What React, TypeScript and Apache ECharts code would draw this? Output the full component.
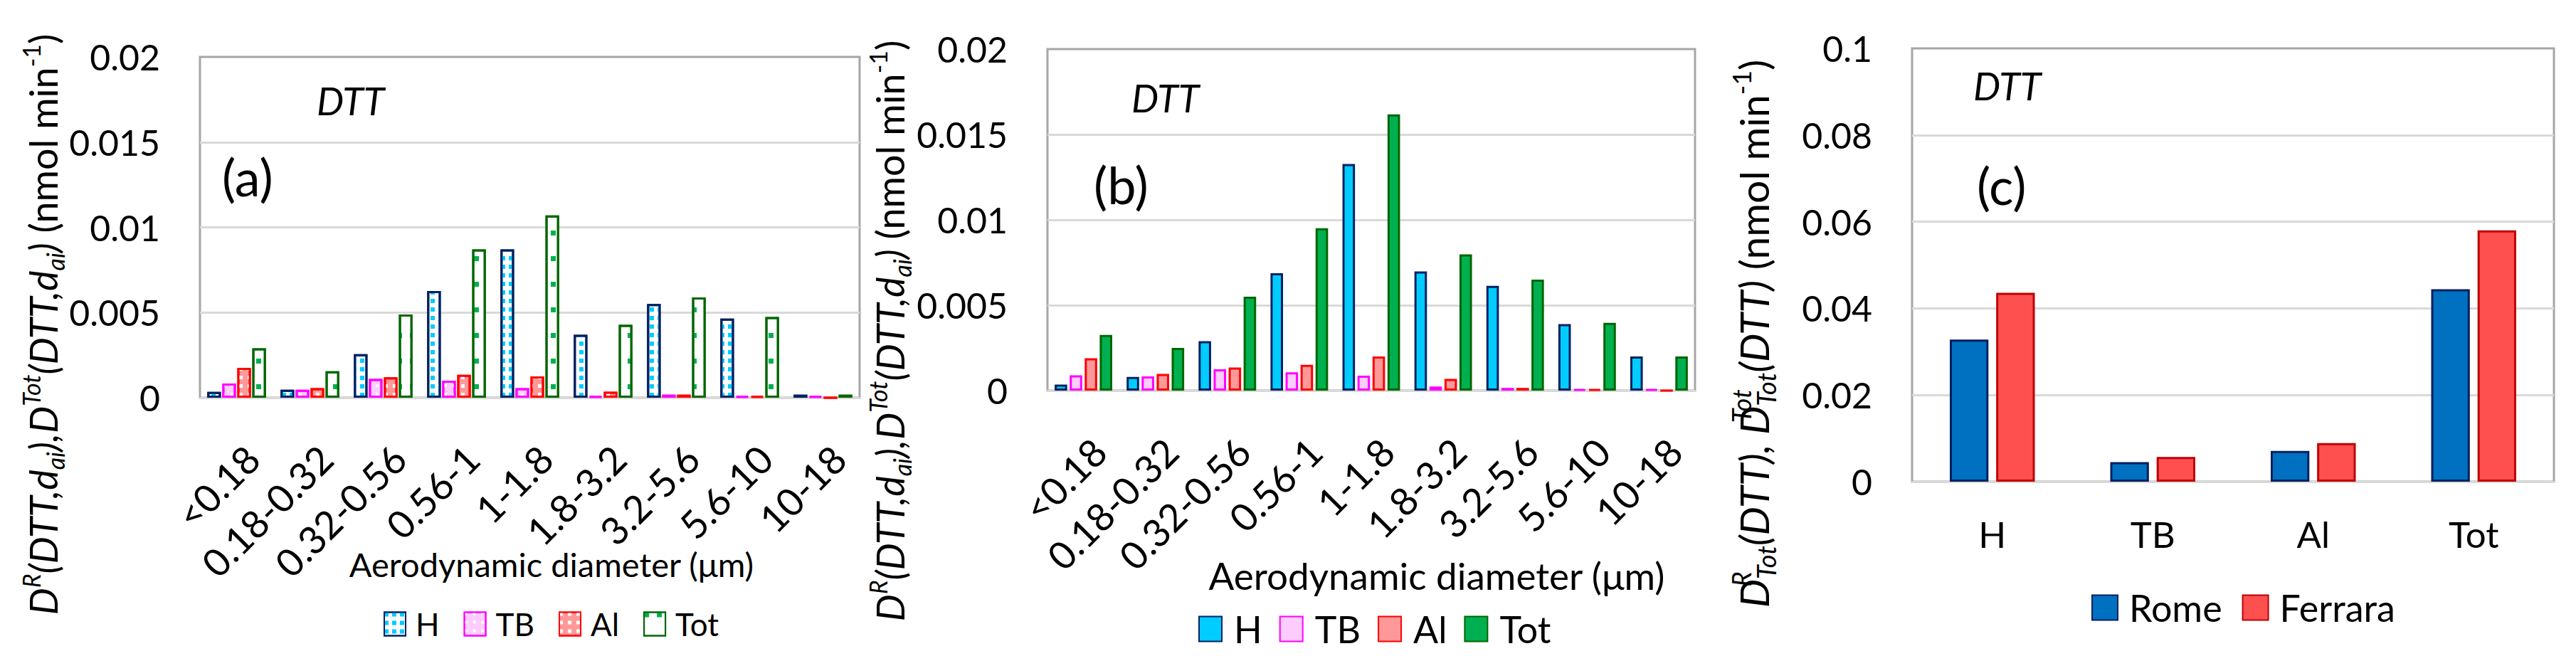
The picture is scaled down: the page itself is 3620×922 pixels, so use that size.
import React, { useEffect, useRef } from 'react';
import * as echarts from 'echarts';

// ---------- data ----------
const sizeBins = ['<0.18', '0.18-0.32', '0.32-0.56', '0.56-1', '1-1.8', '1.8-3.2', '3.2-5.6', '5.6-10', '10-18'];
const seriesNames = ['H', 'TB', 'Al', 'Tot'];

// panel (a)
const aH = [0.00034, 0.00047, 0.00256, 0.00626, 0.00871, 0.0037, 0.0055, 0.00465, 0.00018];
const aTB = [0.00084, 0.00047, 0.00111, 0.001, 0.00056, 0.0001, 0.00018, 0.00011, 0.00011];
const aAl = [0.00175, 0.00056, 0.0012, 0.00135, 0.00125, 0.00036, 0.00018, 0.00011, 0];
const aTot = [0.0029, 0.00156, 0.00489, 0.00871, 0.0107, 0.00428, 0.00589, 0.00474, 0.00018];

// panel (b)
const bH = [0.00035, 0.0008, 0.0029, 0.00688, 0.01327, 0.00698, 0.00614, 0.0039, 0.002];
const bTB = [0.0009, 0.00083, 0.00125, 0.00107, 0.00088, 0.00024, 0.00016, 0.00008, 0.00008];
const bAl = [0.0019, 0.00098, 0.00135, 0.00151, 0.002, 0.00069, 0.00016, 0.00008, 0];
const bTot = [0.00326, 0.0025, 0.0055, 0.00951, 0.01618, 0.00798, 0.0065, 0.00397, 0.002];

// panel (c)
const cCategories = ['H', 'TB', 'Al', 'Tot'];
const cSites = ['Rome', 'Ferrara'];
const cRome = [0.0328, 0.0045, 0.0071, 0.0444];
const cFerrara = [0.0436, 0.0057, 0.0089, 0.058];

// axis scales
const abAxisMax = 0.02;
const abAxisStep = 0.005;
const cAxisMax = 0.1;
const cAxisStep = 0.02;

// ---------- styles ----------
const FONT = 'Lato, "Open Sans", sans-serif';
const fills = ['#00CCFF', '#FFCCFF', '#FF9999', '#00B050'];
const borders = ['#002060', '#FF00FF', '#FF0000', '#006600'];
const cFills = ['#0070C0', '#FF5050'];
const cBorders = ['#002060', '#C00000'];

const aDecals = [
  { fill: '#FFFFFF', decal: { symbol: 'rect', symbolSize: 1, color: '#00CCFF', dashArrayX: [6, 5], dashArrayY: [6, 6] } },
  { fill: '#FFCCFF', decal: { symbol: 'rect', symbolSize: 1, color: '#FFFFFF', dashArrayX: [4, 8], dashArrayY: [4, 8] } },
  { fill: '#FF9999', decal: { symbol: 'rect', symbolSize: 1, color: '#FFFFFF', dashArrayX: [5, 7], dashArrayY: [5, 7] } },
  { fill: '#FFFFFF', decal: { symbol: 'rect', symbolSize: 1, color: '#00B050', dashArrayX: [7, 11], dashArrayY: [7, 29] } },
];

const fmt = (v: number) => String(parseFloat(v.toFixed(4)));

function titleRich(main: number, small: number) {
  const lh = Math.round(main * 1.25);
  const slh = Math.round(small * 1.05);
  return {
    i: { fontFamily: FONT, fontStyle: 'italic', fontSize: main, lineHeight: lh, verticalAlign: 'middle', fill: '#000' },
    n: { fontFamily: FONT, fontSize: main, lineHeight: lh, verticalAlign: 'middle', fill: '#000' },
    isup: { fontFamily: FONT, fontStyle: 'italic', fontSize: small, lineHeight: slh, verticalAlign: 'top', fill: '#000' },
    isupz: { fontFamily: FONT, fontStyle: 'italic', fontSize: small, lineHeight: slh, verticalAlign: 'top', width: 0, fill: '#000' },
    isub: { fontFamily: FONT, fontStyle: 'italic', fontSize: small, lineHeight: slh, verticalAlign: 'bottom', fill: '#000' },
    sup: { fontFamily: FONT, fontSize: small, lineHeight: slh, verticalAlign: 'top', fill: '#000' },
  };
}

const yTitleAB =
  '{i|D}{isup|R}{i|(DTT,d}{isub|ai}{i|),D}{isup|Tot}{i|(DTT,d}{isub|ai}{i|)}{n| (nmol min}{sup|-1}{n|)}';
const yTitleC =
  '{i|D}{isupz|R}{isub|Tot}{i|(DTT), D}{isupz|Tot}{isub|Tot}{i|(DTT)}{n| (nmol min}{sup|-1}{n|)}';

function makeText(x: number, y: number, text: string, size: number, italic = false, align = 'left') {
  return {
    type: 'text',
    x,
    y,
    silent: true,
    style: {
      text,
      fontFamily: FONT,
      fontSize: size,
      fontStyle: italic ? 'italic' : 'normal',
      fill: '#000',
      align,
      verticalAlign: 'middle',
    },
  };
}

function rotatedTitle(x: number, y: number, text: string, main: number, small: number) {
  return {
    type: 'text',
    x,
    y,
    rotation: Math.PI / 2,
    silent: true,
    style: { text, rich: titleRich(main, small), align: 'center', verticalAlign: 'middle', fill: '#000' },
  };
}

function valueAxis(gridIndex: number, max: number, step: number, fontSize: number) {
  return {
    type: 'value',
    gridIndex,
    min: 0,
    max,
    interval: step,
    axisLine: { show: false },
    axisTick: { show: false },
    splitLine: { show: true, showMaxLine: false, lineStyle: { color: '#D9D9D9', width: 3 } },
    axisLabel: { margin: 56, fontSize, fontFamily: FONT, color: '#000', formatter: fmt },
  };
}

// bin axis drawn on the plot (line only)
function binAxisLine(gridIndex: number) {
  return {
    type: 'category',
    gridIndex,
    data: sizeBins,
    axisTick: { show: false },
    axisLine: { show: true, lineStyle: { color: '#D9D9D9', width: 3 } },
    axisLabel: { show: false },
  };
}

// bin axis carrying the rotated labels (in a slightly shifted invisible grid)
function binAxisLabels(gridIndex: number, fontSize: number, margin: number) {
  return {
    type: 'category',
    gridIndex,
    data: sizeBins,
    axisTick: { show: false },
    axisLine: { show: false },
    splitLine: { show: false },
    axisLabel: { interval: 0, rotate: 45, fontSize, fontFamily: FONT, color: '#000', margin },
  };
}

function hiddenValueAxis(gridIndex: number) {
  return { type: 'value', gridIndex, show: false, min: 0, max: 1 };
}

function buildOption() {
  const aData = [aH, aTB, aAl, aTot];
  const bData = [bH, bTB, bAl, bTot];
  const series: any[] = [];
  seriesNames.forEach((name, k) => {
    series.push({
      type: 'bar',
      name,
      xAxisIndex: 0,
      yAxisIndex: 0,
      data: aData[k],
      barGap: '10%',
      barCategoryGap: '20%',
      itemStyle: { color: aDecals[k].fill, borderColor: borders[k], borderWidth: 3, decal: aDecals[k].decal },
    });
  });
  seriesNames.forEach((name, k) => {
    series.push({
      type: 'bar',
      name: name + ' ',
      xAxisIndex: 1,
      yAxisIndex: 1,
      data: bData[k],
      barGap: '20%',
      barCategoryGap: '20%',
      itemStyle: { color: fills[k], borderColor: borders[k], borderWidth: 3 },
    });
  });
  const cData = [cRome, cFerrara];
  cSites.forEach((name, k) => {
    series.push({
      type: 'bar',
      name,
      xAxisIndex: 2,
      yAxisIndex: 2,
      data: cData[k],
      barGap: '20%',
      barCategoryGap: '47%',
      itemStyle: { color: cFills[k], borderColor: cBorders[k], borderWidth: 3 },
    });
  });

  const gridBase = { show: true, borderColor: '#A6A6A6', borderWidth: 3, backgroundColor: 'transparent', containLabel: false, outerBoundsMode: 'none' };
  const hiddenGrid = { show: false, containLabel: false, outerBoundsMode: 'none' };
  const labelShift = 22;

  return {
    animation: false,
    backgroundColor: '#FFFFFF',
    grid: [
      { ...gridBase, left: 281, top: 80, width: 927, height: 479 },
      { ...gridBase, left: 1472, top: 69, width: 910, height: 480 },
      { ...gridBase, left: 2687, top: 68, width: 902, height: 609 },
      { ...hiddenGrid, left: 281 + labelShift, top: 80, width: 927, height: 479 },
      { ...hiddenGrid, left: 1472 + labelShift, top: 69, width: 910, height: 480 },
    ],
    xAxis: [
      binAxisLine(0),
      binAxisLine(1),
      {
        type: 'category',
        gridIndex: 2,
        data: cCategories,
        axisTick: { show: false },
        axisLine: { show: true, lineStyle: { color: '#D9D9D9', width: 3 } },
        axisLabel: { fontSize: 51, fontFamily: FONT, color: '#000', margin: 48 },
      },
      binAxisLabels(3, 54, 76),
      binAxisLabels(4, 54, 76),
    ],
    yAxis: [
      valueAxis(0, abAxisMax, abAxisStep, 50),
      valueAxis(1, abAxisMax, abAxisStep, 50),
      valueAxis(2, cAxisMax, cAxisStep, 50),
      hiddenValueAxis(3),
      hiddenValueAxis(4),
    ],
    legend: [
      {
        data: seriesNames,
        left: 539,
        top: 855,
        icon: 'rect',
        itemWidth: 30,
        itemHeight: 33,
        itemGap: 34,
        padding: 0,
        selectedMode: false,
        textStyle: { fontSize: 44, fontFamily: FONT, color: '#000', padding: [0, 0, 0, 9] },
      },
      {
        data: seriesNames.map((n) => n + ' '),
        left: 1684,
        top: 858,
        icon: 'rect',
        itemWidth: 32,
        itemHeight: 35,
        itemGap: 24,
        padding: 0,
        selectedMode: false,
        formatter: (n: string) => n.trim(),
        textStyle: { fontSize: 52, fontFamily: FONT, color: '#000', padding: [0, 0, 0, 12] },
      },
      {
        data: cSites,
        left: 2939,
        top: 828,
        icon: 'rect',
        itemWidth: 36,
        itemHeight: 35,
        itemGap: 28,
        padding: 0,
        selectedMode: false,
        textStyle: { fontSize: 52, fontFamily: FONT, color: '#000', padding: [0, 0, 0, 11] },
      },
    ],
    graphic: {
      elements: [
        makeText(445, 141, 'DTT', 54, true),
        makeText(312, 248, '(a)', 72),
        makeText(1590, 137, 'DTT', 54, true),
        makeText(1537, 259, '(b)', 72),
        makeText(2773, 120, 'DTT', 54, true),
        makeText(2778, 260, '(c)', 72),
        makeText(775, 793, 'Aerodynamic diameter (μm)', 47, false, 'center'),
        makeText(2019, 808, 'Aerodynamic diameter (μm)', 53, false, 'center'),
        rotatedTitle(60, 456, yTitleAB, 54, 34),
        rotatedTitle(1250, 465, yTitleAB, 54, 34),
        rotatedTitle(2464, 469, yTitleC, 57, 36),
      ],
    },
    series,
  };
}

export default function App() {
  const ref = useRef<HTMLDivElement>(null);
  useEffect(() => {
    if (!ref.current) return;
    const chart = echarts.init(ref.current, undefined, { renderer: 'svg' });
    chart.setOption(buildOption() as any);
    return () => chart.dispose();
  }, []);
  return (
    <div
      ref={ref}
      style={{ position: 'absolute', left: 0, top: 0, width: 3620, height: 922, background: '#fff' }}
    />
  );
}
